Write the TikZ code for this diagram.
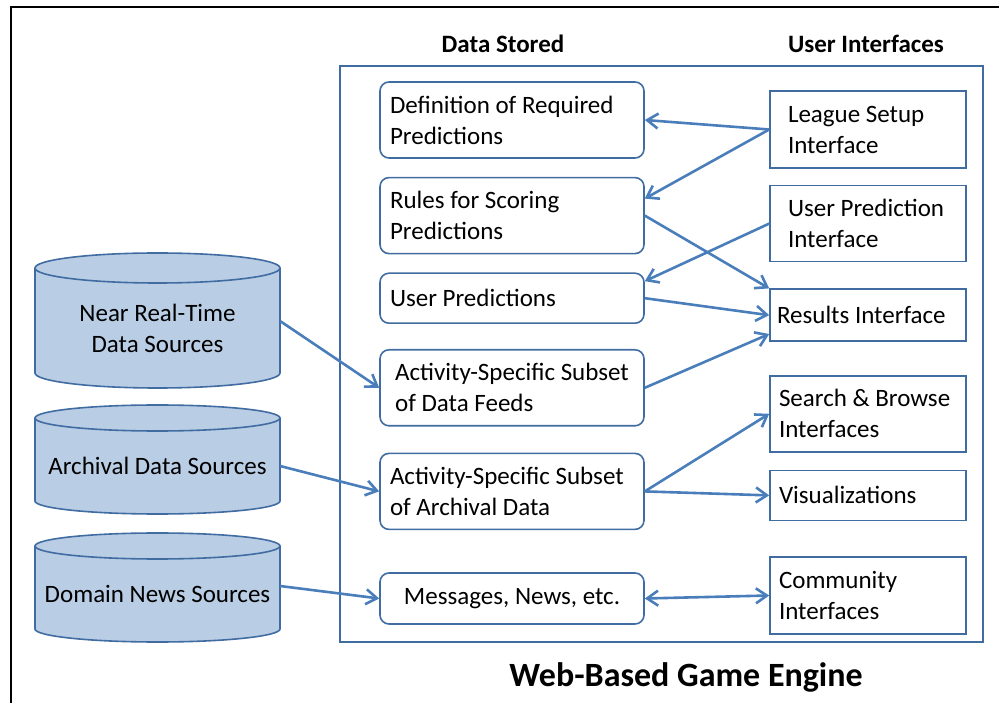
\documentclass[tikz,border=0pt]{standalone}
\usepackage{fontspec}
\setmainfont{Carlito}
\usetikzlibrary{arrows.meta,positioning,calc,backgrounds}

\definecolor{linkblue}{RGB}{74,126,187}
\definecolor{boxblue}{RGB}{65,108,162}
\definecolor{dbfill}{RGB}{185,205,229}

\begin{document}
\begin{tikzpicture}[x=1pt,y=1pt,>={Straight Barb[length=11pt,width=15pt]},node distance=18pt,font=\fontsize{25}{31}\selectfont]
  \tikzstyle{storebox}=[draw=boxblue, line width=1.6pt, rounded corners=9pt, minimum width=264pt, align=flush left, minimum height=76pt]
  \tikzstyle{store}=[storebox, text width=244pt, inner xsep=10pt]
  \tikzstyle{iface}=[draw=boxblue, line width=1.6pt, text width=182pt, inner xsep=7pt, align=flush left, minimum height=76pt]
  \tikzstyle{dbase}=[minimum width=245pt, inner xsep=2pt, outer sep=0pt, align=center]
  \tikzstyle{dbase line}=[draw=boxblue, line width=1.6pt, fill=dbfill]
  \tikzstyle{link}=[draw=linkblue, line width=2.6pt]
  \tikzstyle{head}=[font=\fontsize{25}{30}\selectfont\bfseries]

  \useasboundingbox (0,0) rectangle (999,702);
  \clip (0,0) rectangle (999,702);
  \draw[line width=2pt] (11,-10) -- (11,695) -- (1010,695);

  % game engine frame
  \node[draw=boxblue, line width=2pt, minimum width=643pt, minimum height=576pt] (engine) at (661.5,348) {};
  \node[head] (stored) at (503,658) {Data Stored};
  \node[head] (uis) at (866,658) {User Interfaces};
  \node[font=\fontsize{34}{40}\selectfont\bfseries] (title) at (686,25) {Web-Based Game Engine};

  % stored data
  \node[store] (def) at (512,582) {Definition of Required\\Predictions};
  \node[store, below=18pt of def] (rules) {Rules for Scoring\\Predictions};
  \node[store, below=18pt of rules, minimum height=50pt] (upred) {User Predictions};
  \node[storebox, below=25pt of upred] (feeds) {Activity-Specific Subset\\of Data Feeds};
  \node[store, below=26pt of feeds] (arch) {Activity-Specific Subset\\of Archival Data};
  \node[storebox, below=42pt of arch, minimum height=51pt] (msgs) {Messages, News, etc.};

  % interfaces
  \node[iface, minimum height=77pt] (league) at (868,572.5) {\hspace*{11pt}League Setup\\\hspace*{11pt}Interface};
  \node[iface, below=16pt of league] (uprint) {\hspace*{11pt}User Prediction\\\hspace*{11pt}Interface};
  \node[iface, below=26pt of uprint, minimum height=52pt] (results) {Results Interface};
  \node[iface, below=33pt of results] (search) {\hspace*{2pt}Search \& Browse\\\hspace*{2pt}Interfaces};
  \node[iface, below=17pt of search, minimum height=50pt] (vis) {\hspace*{2pt}Visualizations};
  \node[iface, below=35pt of vis, minimum height=77pt] (comm) {\hspace*{2pt}Community\\\hspace*{2pt}Interfaces};

  % data sources
  \node[dbase, minimum height=120pt] (nrt) at (157.5,374) {Near Real-Time\\Data Sources};
  \node[dbase, minimum height=96pt] (arcs) at (157.5,236) {Archival Data Sources};
  \node[dbase, minimum height=96pt] (dom) at (157.5,108) {Domain News Sources};

  \begin{scope}[on background layer]
    \foreach \db/\ry in {nrt/15,arcs/13,dom/13} {
      \draw[dbase line] (\db.north west) -- ($(\db.south west)+(0,\ry)$)
        arc[start angle=180, end angle=360, x radius=122.5, y radius=\ry]
        -- (\db.north east)
        arc[start angle=0, end angle=180, x radius=122.5, y radius=\ry] -- cycle;
      \draw[dbase line, fill=none] (\db.north west)
        arc[start angle=180, end angle=360, x radius=122.5, y radius=\ry];
    }
  \end{scope}

  % connections
  \draw[link,->] (league.west) -- (def.east);
  \draw[link,->] (league.west) -- ([yshift=17pt]rules.east);
  \draw[link,->] (rules.east) -- (results.north west);
  \draw[link,->] (uprint.west) -- ([yshift=17pt]upred.east);
  \draw[link,->] (upred.east) -- (results.west);
  \draw[link,->] (feeds.east) -- ([yshift=8pt]results.south west);
  \draw[link,->] ([yshift=7pt]nrt.east) -- (feeds.west);
  \draw[link,->] (arcs.east) -- (arch.west);
  \draw[link,->] (arch.east) -- (search.west);
  \draw[link,->] (arch.east) -- (vis.west);
  \draw[link,->] ([yshift=8pt]dom.east) -- (msgs.west);
  \draw[link,<->] (msgs.east) -- (comm.west);
\end{tikzpicture}
\end{document}
